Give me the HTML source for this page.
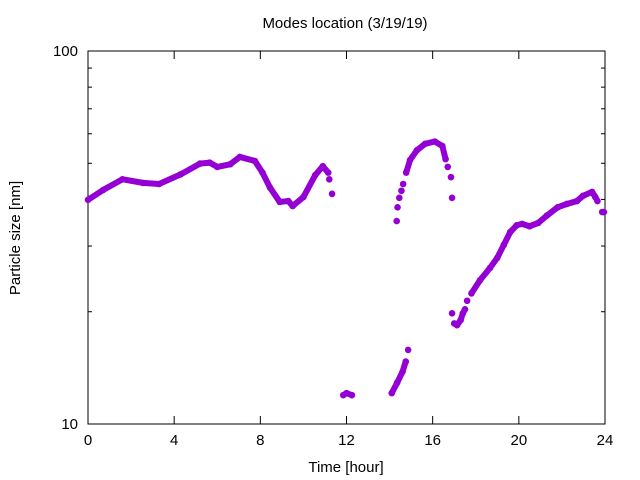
<!DOCTYPE html>
<html><head><meta charset="utf-8"><style>
body{margin:0;background:#fff}
svg{display:block;font-family:"Liberation Sans",sans-serif}
</style></head><body>
<svg id="c" width="640" height="480">
<text x="345" y="28" text-anchor="middle" font-size="15">Modes location (3/19/19)</text>
<text x="346" y="472" text-anchor="middle" font-size="15">Time [hour]</text>
<text transform="translate(20,238) rotate(-90)" text-anchor="middle" font-size="15">Particle size [nm]</text>
<g id="axes"></g><g id="marks"></g>
</svg>
<script>
const xTicks=[0,4,8,12,16,20,24];
const yMajor=[10,100];
const yMinor=[20,30,40,50,60,70,80,90];
// segments: hours and sizes (null separates groups)
const hours=[0,0.7,1.6,2.55,3.3,4.3,5.2,5.65,6.0,6.6,7.05,7.75,8.1,8.45,8.9,9.3,9.5,10.0,10.55,10.9,11.15,null,11.2,null,11.33,null,
11.85,12.0,12.25,null,
14.1,14.35,14.6,14.75,null,14.86,null,
14.33,null,14.37,null,14.45,null,14.55,null,14.63,null,14.77,14.95,15.27,15.65,16.1,16.45,16.6,null,16.7,null,16.85,null,16.9,null,
16.9,null,17.0,17.13,17.3,17.4,17.5,null,17.6,null,17.8,18.2,18.66,19.0,19.3,19.6,19.9,20.15,20.5,20.9,21.3,21.8,22.23,22.7,22.98,23.4,23.55,23.65,null,23.87,23.95];
const sizes=[39.9,42.4,45.3,44.3,44,46.7,49.9,50.2,48.9,49.7,52,50.7,47.2,43,39.4,39.6,38.4,40.6,46.5,49.1,47.2,null,45.3,null,41.4,null,
11.95,12.1,11.95,null,
12.1,12.9,13.8,14.7,null,15.8,null,
35,null,38.1,null,40.4,null,42.2,null,44,null,47.2,51,54.2,56.4,57.2,55.6,51.3,null,48.9,null,45.9,null,40.4,null,
19.8,null,18.6,18.4,19,19.8,20.3,null,21.4,null,22.4,24.3,26.2,27.9,30.2,32.7,34.1,34.4,33.9,34.6,36.2,38.1,38.9,39.6,40.9,41.9,40.6,39.6,null,37,37];
const L=88,R=605,T=51,B=424,NS="http://www.w3.org/2000/svg";
const xs=h=>L+(h/24)*(R-L);
const ys=v=>B-(Math.log10(v)-1)*(B-T);
function mk(t,a,p){const e=document.createElementNS(NS,t);for(const k in a)e.setAttribute(k,a[k]);(p||document.getElementById('axes')).appendChild(e);return e;}
const ax=document.getElementById('axes');
const fr=mk('rect',{x:L,y:T,width:R-L,height:B-T,fill:'none',stroke:'#000','stroke-width':1});


xTicks.forEach(t=>{const x=xs(t);
 mk('line',{x1:x,y1:B,x2:x,y2:B-8,stroke:'#000'});mk('line',{x1:x,y1:T,x2:x,y2:T+8,stroke:'#000'});
 const tx=mk('text',{x:x,y:B+21,'text-anchor':'middle','font-size':15});tx.textContent=t;
 
 });
yMajor.forEach(v=>{const y=ys(v);
 mk('line',{x1:L,y1:y,x2:L+8,y2:y,stroke:'#000'});mk('line',{x1:R,y1:y,x2:R-8,y2:y,stroke:'#000'});
 const tx=mk('text',{x:L-10,y:y+5,'text-anchor':'end','font-size':15});tx.textContent=v;
 
 });
yMinor.forEach(v=>{const y=ys(v);
 mk('line',{x1:L,y1:y,x2:L+4,y2:y,stroke:'#000'});mk('line',{x1:R,y1:y,x2:R-4,y2:y,stroke:'#000'});});
const mg=document.getElementById('marks');
let seg=[];
function flush(){if(seg.length>1){const pl=mk('polyline',{points:seg.map(p=>p.join(',')).join(' '),fill:'none',stroke:'#9400d3','stroke-width':6,'stroke-linejoin':'round','stroke-linecap':'round'},mg);
 
 }seg=[];}
for(let i=0;i<hours.length;i++){
 if(hours[i]===null){flush();continue;}
 const x=xs(hours[i]),y=ys(sizes[i]);seg.push([x,y]);
 const c=mk('circle',{cx:x,cy:y,r:3.3,fill:'#9400d3'},mg);
 
 
}
flush();
</script>
</body></html>
